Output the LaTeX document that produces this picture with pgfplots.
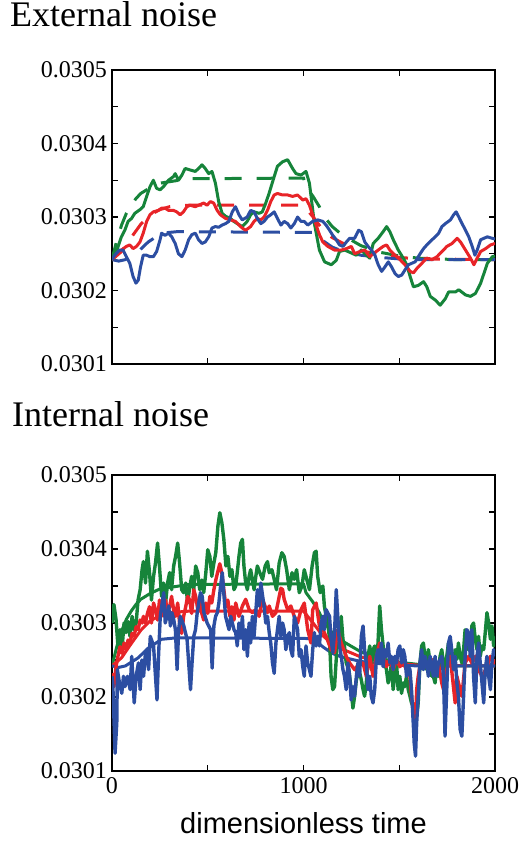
\documentclass[border=0pt]{standalone}
\usepackage{pgfplots}
\pgfplotsset{compat=1.18}
\usepackage{fontspec}
\setmainfont{Liberation Serif}
\newfontfamily\sansf{Liberation Sans}
\definecolor{cg}{RGB}{22,132,58}
\definecolor{cr}{RGB}{232,36,40}
\definecolor{cb}{RGB}{44,78,162}
\pgfplotsset{
  panel/.style={
    scale only axis, width=383pt,
    xmin=0, xmax=2000, ymin=0.0301, ymax=0.0305,
    scaled y ticks=false, scaled x ticks=false,
    xtick={0,1000,2000}, minor xtick={500,1500},
    ytick={0.0301,0.0302,0.0303,0.0304,0.0305},
    minor ytick={0.03015,0.03025,0.03035,0.03045},
    yticklabels={0.0301,0.0302,0.0303,0.0304,0.0305},
    tick align=inside, major tick length=6pt, minor tick length=6pt,
    every tick/.style={black, line width=1.3pt},
    axis line style={line width=2.3pt},
    tick label style={font=\fontsize{24}{26}\selectfont},
    yticklabel style={inner sep=5pt},
    xticklabel style={inner sep=6pt},
    title style={font=\fontsize{36}{38}\selectfont, anchor=base west, inner sep=0pt},
  },
  sol/.style={line width=3pt, line join=round},
  noi/.style={line width=3.4pt, line join=round},
  dsh/.style={line width=3pt, dash pattern=on 17pt off 15pt},
}
\begin{document}
\begin{tikzpicture}
\path[use as bounding box] (0pt,0pt) rectangle (520pt,841pt);
% ---------------- External noise ----------------
\begin{axis}[panel, at={(112pt,477pt)}, anchor=south west, height=294pt,
  xticklabels={},
  title={External noise}, title style={at={(axis description cs:-0.2663,1.1259)}}]
\addplot[cg, dsh] table {
t y
0 0.030242
25 0.030268
50 0.030289
75 0.030305
100 0.030316
125 0.030325
150 0.030332
200 0.030340
250 0.030346
300 0.030348
400 0.030352
1000 0.030353
1013 0.030341
1050 0.030328
1083 0.030314
1100 0.030303
1150 0.030287
1200 0.030276
1300 0.030261
1400 0.030252
1500 0.030247
1600 0.030244
1800 0.030242
2000 0.030242
};
\addplot[cr, dsh] table {
t y
0 0.030242
50 0.030253
100 0.030272
150 0.030290
200 0.030303
250 0.030310
300 0.030314
400 0.030316
1000 0.030316
1050 0.030300
1100 0.030283
1150 0.030272
1200 0.030265
1300 0.030254
1400 0.030249
1500 0.030245
1600 0.030243
2000 0.030242
};
\addplot[cb, dsh] table {
t y
0 0.030242
35 0.030240
70 0.030242
137 0.030253
189 0.030266
259 0.030278
338 0.030280
1050 0.030279
1100 0.030268
1150 0.030259
1200 0.030254
1300 0.030248
1400 0.030245
1500 0.030243
1600 0.030242
2000 0.030242
};
\addplot[cg, sol] table {
t y
0 0.030242
14 0.030246
32 0.030260
49 0.030273
67 0.030282
84 0.030294
102 0.030298
119 0.030305
146 0.030310
163 0.030314
181 0.030328
198 0.030341
216 0.030350
233 0.030339
251 0.030337
268 0.030341
295 0.030350
321 0.030355
330 0.030359
347 0.030350
365 0.030357
382 0.030366
408 0.030364
435 0.030362
452 0.030366
470 0.030371
487 0.030366
505 0.030359
522 0.030362
540 0.030346
557 0.030321
575 0.030305
593 0.030301
619 0.030298
636 0.030294
654 0.030291
680 0.030287
706 0.030294
724 0.030303
742 0.030307
768 0.030305
785 0.030307
803 0.030319
820 0.030332
847 0.030355
864 0.030369
890 0.030375
917 0.030378
943 0.030366
961 0.030359
987 0.030357
1013 0.030362
1031 0.030346
1057 0.030291
1083 0.030255
1110 0.030239
1145 0.030235
1171 0.030241
1188 0.030253
1215 0.030255
1250 0.030251
1276 0.030248
1302 0.030255
1329 0.030248
1346 0.030244
1364 0.030264
1390 0.030271
1416 0.030280
1434 0.030287
1451 0.030280
1469 0.030269
1495 0.030255
1521 0.030244
1539 0.030235
1557 0.030219
1574 0.030205
1600 0.030207
1627 0.030212
1644 0.030205
1662 0.030192
1688 0.030187
1714 0.030180
1741 0.030189
1758 0.030198
1793 0.030198
1811 0.030201
1846 0.030194
1872 0.030192
1898 0.030196
1925 0.030210
1942 0.030223
1960 0.030237
1986 0.030246
2000 0.030247
};
\addplot[cr, sol] table {
t y
0 0.030242
23 0.030248
49 0.030255
75 0.030260
93 0.030262
110 0.030257
128 0.030260
146 0.030266
163 0.030278
181 0.030294
198 0.030303
216 0.030307
242 0.030309
259 0.030312
277 0.030312
295 0.030309
321 0.030309
338 0.030307
356 0.030303
373 0.030307
391 0.030314
408 0.030316
435 0.030314
452 0.030316
479 0.030319
496 0.030316
514 0.030321
531 0.030319
549 0.030309
566 0.030303
593 0.030298
619 0.030296
645 0.030294
663 0.030289
680 0.030285
698 0.030282
724 0.030287
742 0.030294
759 0.030298
777 0.030296
794 0.030300
812 0.030309
829 0.030321
847 0.030330
864 0.030332
890 0.030330
917 0.030330
943 0.030328
969 0.030330
996 0.030323
1013 0.030325
1031 0.030316
1048 0.030303
1066 0.030289
1083 0.030276
1101 0.030266
1127 0.030260
1162 0.030255
1197 0.030255
1224 0.030257
1250 0.030260
1267 0.030250
1294 0.030253
1320 0.030255
1346 0.030246
1364 0.030250
1390 0.030255
1416 0.030260
1434 0.030262
1451 0.030255
1478 0.030248
1504 0.030242
1530 0.030235
1557 0.030226
1574 0.030224
1592 0.030230
1618 0.030237
1644 0.030244
1671 0.030242
1697 0.030246
1723 0.030253
1749 0.030260
1776 0.030264
1802 0.030271
1820 0.030266
1846 0.030255
1872 0.030244
1890 0.030235
1907 0.030244
1925 0.030253
1951 0.030257
1977 0.030262
2000 0.030264
};
\addplot[cb, sol] table {
t y
0 0.030242
14 0.030248
40 0.030255
58 0.030255
75 0.030246
93 0.030237
110 0.030219
125 0.030210
137 0.030214
149 0.030232
163 0.030248
181 0.030248
198 0.030246
216 0.030246
233 0.030253
251 0.030269
259 0.030278
277 0.030275
295 0.030278
312 0.030273
330 0.030264
347 0.030250
365 0.030246
382 0.030255
400 0.030269
417 0.030276
435 0.030278
452 0.030269
470 0.030264
487 0.030266
505 0.030273
522 0.030285
540 0.030287
557 0.030286
575 0.030289
593 0.030291
610 0.030294
628 0.030307
645 0.030314
663 0.030303
680 0.030296
706 0.030300
724 0.030309
742 0.030307
759 0.030298
777 0.030291
794 0.030294
812 0.030300
829 0.030303
847 0.030307
864 0.030298
882 0.030289
899 0.030294
917 0.030291
934 0.030285
952 0.030291
969 0.030300
987 0.030294
1004 0.030294
1022 0.030289
1048 0.030294
1075 0.030296
1101 0.030294
1118 0.030289
1136 0.030282
1153 0.030275
1171 0.030269
1188 0.030262
1206 0.030260
1224 0.030266
1241 0.030271
1267 0.030271
1288 0.030282
1302 0.030280
1320 0.030266
1337 0.030260
1355 0.030255
1373 0.030248
1390 0.030235
1408 0.030226
1425 0.030232
1443 0.030239
1460 0.030232
1478 0.030223
1495 0.030219
1513 0.030221
1530 0.030228
1548 0.030235
1565 0.030237
1583 0.030239
1609 0.030250
1627 0.030257
1644 0.030262
1671 0.030269
1688 0.030273
1706 0.030278
1723 0.030287
1741 0.030291
1767 0.030296
1784 0.030303
1797 0.030307
1811 0.030300
1828 0.030291
1846 0.030282
1863 0.030273
1881 0.030260
1895 0.030248
1907 0.030255
1925 0.030269
1942 0.030271
1960 0.030273
1986 0.030271
2000 0.030270
};
\end{axis}
% ---------------- Internal noise ----------------
\begin{axis}[panel, at={(112pt,70pt)}, anchor=south west, height=296pt,
  xticklabels={0,1000,2000},
  title={Internal noise}, title style={at={(axis description cs:-0.261,1.1419)}},
  xlabel={dimensionless time},
  xlabel style={font=\sansf\fontsize{29}{31}\selectfont, anchor=base, inner sep=0pt,
    at={(axis description cs:0.5,-0.2128)}}]
\addplot[cg, sol] table {
t y
0 0.030242
25 0.030268
50 0.030289
75 0.030305
100 0.030316
125 0.030325
150 0.030332
200 0.030340
250 0.030346
300 0.030348
400 0.030352
1000 0.030353
1013 0.030341
1050 0.030328
1083 0.030314
1100 0.030303
1150 0.030287
1200 0.030276
1300 0.030261
1400 0.030252
1500 0.030247
1600 0.030244
1800 0.030242
2000 0.030242
};
\addplot[cr, sol] table {
t y
0 0.030242
50 0.030253
100 0.030272
150 0.030290
200 0.030303
250 0.030310
300 0.030314
400 0.030316
1000 0.030316
1050 0.030300
1100 0.030283
1150 0.030272
1200 0.030265
1300 0.030254
1400 0.030249
1500 0.030245
1600 0.030243
2000 0.030242
};
\addplot[cb, sol] table {
t y
0 0.030242
35 0.030240
70 0.030242
137 0.030253
189 0.030266
259 0.030278
338 0.030280
1050 0.030279
1100 0.030268
1150 0.030259
1200 0.030254
1300 0.030248
1400 0.030245
1500 0.030243
1600 0.030242
2000 0.030242
};
\addplot[cg, noi] table {
t y
0 0.030300
10 0.030325
21 0.030305
31 0.030269
42 0.030291
52 0.030264
63 0.030300
73 0.030287
84 0.030302
94 0.030282
105 0.030309
115 0.030291
126 0.030300
136 0.030331
147 0.030345
157 0.030372
164 0.030383
175 0.030354
185 0.030397
196 0.030368
206 0.030331
217 0.030363
227 0.030381
238 0.030408
248 0.030376
259 0.030336
269 0.030354
280 0.030327
290 0.030354
301 0.030368
311 0.030345
322 0.030377
332 0.030390
343 0.030408
353 0.030381
364 0.030345
374 0.030341
385 0.030354
395 0.030327
406 0.030349
416 0.030363
427 0.030345
437 0.030377
448 0.030368
458 0.030345
469 0.030358
479 0.030341
490 0.030368
500 0.030399
511 0.030390
521 0.030363
532 0.030381
542 0.030395
553 0.030431
563 0.030449
574 0.030435
584 0.030413
595 0.030377
605 0.030390
616 0.030363
626 0.030372
637 0.030345
646 0.030350
654 0.030368
663 0.030390
672 0.030408
681 0.030413
689 0.030377
698 0.030354
707 0.030345
716 0.030363
724 0.030372
733 0.030359
742 0.030345
751 0.030363
759 0.030377
772 0.030368
786 0.030359
800 0.030377
812 0.030383
821 0.030368
835 0.030372
847 0.030359
859 0.030345
873 0.030381
887 0.030395
899 0.030390
912 0.030372
926 0.030345
940 0.030368
952 0.030359
964 0.030372
978 0.030341
992 0.030350
1004 0.030372
1017 0.030359
1031 0.030345
1045 0.030377
1057 0.030395
1066 0.030397
1074 0.030363
1087 0.030341
1101 0.030350
1109 0.030323
1118 0.030309
1127 0.030300
1136 0.030278
1144 0.030228
1153 0.030210
1162 0.030214
1171 0.030251
1179 0.030291
1188 0.030273
1197 0.030309
1206 0.030278
1214 0.030269
1223 0.030246
1237 0.030237
1249 0.030210
1258 0.030185
1267 0.030201
1276 0.030223
1290 0.030237
1302 0.030223
1311 0.030210
1319 0.030201
1328 0.030219
1337 0.030255
1346 0.030269
1354 0.030237
1363 0.030264
1372 0.030269
1381 0.030246
1389 0.030273
1398 0.030323
1407 0.030291
1416 0.030269
1424 0.030246
1433 0.030237
1442 0.030219
1451 0.030228
1459 0.030246
1468 0.030210
1477 0.030228
1486 0.030246
1494 0.030210
1503 0.030228
1512 0.030205
1521 0.030219
1529 0.030214
1538 0.030228
1547 0.030210
1556 0.030201
1564 0.030192
1573 0.030187
1582 0.030165
1591 0.030174
1599 0.030192
1608 0.030246
1617 0.030269
1626 0.030273
1634 0.030255
1643 0.030237
1652 0.030264
1661 0.030246
1669 0.030228
1678 0.030228
1687 0.030219
1696 0.030241
1704 0.030228
1713 0.030255
1722 0.030264
1731 0.030246
1739 0.030237
1748 0.030255
1757 0.030273
1766 0.030246
1774 0.030255
1783 0.030237
1792 0.030264
1801 0.030251
1809 0.030273
1818 0.030255
1827 0.030246
1836 0.030264
1844 0.030291
1853 0.030264
1862 0.030282
1871 0.030264
1879 0.030296
1888 0.030300
1897 0.030278
1906 0.030264
1914 0.030282
1923 0.030255
1932 0.030269
1941 0.030264
1949 0.030287
1958 0.030314
1967 0.030300
1976 0.030278
1984 0.030296
1993 0.030269
2000 0.030282
};
\addplot[cr, noi] table {
t y
0 0.030232
10 0.030214
21 0.030241
31 0.030255
42 0.030268
52 0.030259
63 0.030273
73 0.030264
84 0.030277
94 0.030273
105 0.030286
115 0.030282
126 0.030295
136 0.030291
147 0.030304
157 0.030300
164 0.030309
175 0.030300
185 0.030313
196 0.030322
206 0.030300
217 0.030327
227 0.030318
238 0.030304
248 0.030331
259 0.030309
269 0.030318
280 0.030331
290 0.030313
301 0.030322
311 0.030336
322 0.030318
332 0.030309
343 0.030327
353 0.030300
364 0.030286
374 0.030309
385 0.030322
395 0.030336
406 0.030331
416 0.030313
427 0.030345
437 0.030336
448 0.030318
458 0.030331
469 0.030313
479 0.030304
490 0.030327
500 0.030313
511 0.030336
521 0.030327
532 0.030345
542 0.030358
553 0.030370
563 0.030380
574 0.030367
584 0.030345
595 0.030322
605 0.030331
616 0.030309
626 0.030322
637 0.030304
646 0.030327
663 0.030309
681 0.030323
698 0.030332
716 0.030318
733 0.030314
751 0.030318
768 0.030309
786 0.030332
812 0.030314
821 0.030323
838 0.030309
856 0.030314
882 0.030347
891 0.030345
899 0.030332
917 0.030318
934 0.030323
952 0.030309
969 0.030300
987 0.030318
1004 0.030327
1022 0.030291
1039 0.030273
1048 0.030318
1066 0.030327
1083 0.030296
1101 0.030291
1118 0.030282
1144 0.030264
1162 0.030260
1179 0.030291
1197 0.030273
1223 0.030255
1241 0.030246
1267 0.030237
1293 0.030246
1311 0.030246
1328 0.030228
1346 0.030255
1363 0.030228
1381 0.030255
1398 0.030273
1416 0.030255
1433 0.030241
1451 0.030251
1468 0.030237
1486 0.030251
1503 0.030241
1521 0.030246
1538 0.030237
1556 0.030228
1564 0.030201
1573 0.030183
1578 0.030165
1585 0.030169
1591 0.030210
1599 0.030228
1617 0.030255
1634 0.030246
1652 0.030237
1669 0.030251
1687 0.030237
1704 0.030246
1722 0.030219
1731 0.030210
1748 0.030237
1766 0.030255
1792 0.030192
1801 0.030228
1818 0.030210
1827 0.030201
1844 0.030246
1862 0.030255
1879 0.030246
1897 0.030255
1914 0.030237
1932 0.030228
1941 0.030232
1958 0.030241
1976 0.030255
1993 0.030246
2000 0.030251
};
\addplot[cb, noi] table {
t y
0 0.030228
4 0.030219
11 0.030165
16 0.030124
25 0.030165
28 0.030237
39 0.030219
51 0.030205
60 0.030228
68 0.030214
81 0.030228
95 0.030210
103 0.030255
116 0.030192
126 0.030228
138 0.030246
147 0.030210
156 0.030250
165 0.030228
173 0.030255
182 0.030264
191 0.030237
200 0.030282
217 0.030269
235 0.030196
243 0.030255
252 0.030309
270 0.030341
278 0.030300
287 0.030309
296 0.030323
305 0.030296
313 0.030314
322 0.030305
331 0.030291
340 0.030237
348 0.030291
357 0.030309
375 0.030296
392 0.030278
410 0.030210
418 0.030246
427 0.030282
436 0.030291
445 0.030314
453 0.030327
462 0.030341
471 0.030336
480 0.030314
497 0.030300
515 0.030291
523 0.030239
532 0.030296
541 0.030309
550 0.030314
558 0.030327
567 0.030350
576 0.030368
585 0.030336
593 0.030309
602 0.030300
611 0.030291
620 0.030309
637 0.030291
646 0.030287
654 0.030269
663 0.030300
672 0.030282
681 0.030309
689 0.030264
698 0.030291
707 0.030255
716 0.030300
724 0.030273
733 0.030309
742 0.030282
759 0.030345
768 0.030323
777 0.030354
794 0.030323
803 0.030300
812 0.030309
821 0.030287
829 0.030273
838 0.030246
847 0.030232
856 0.030273
864 0.030291
873 0.030309
882 0.030282
891 0.030300
899 0.030291
908 0.030264
917 0.030282
926 0.030287
934 0.030264
943 0.030255
952 0.030309
961 0.030300
969 0.030291
978 0.030255
987 0.030264
996 0.030241
1004 0.030228
1013 0.030269
1022 0.030246
1031 0.030237
1039 0.030228
1048 0.030264
1057 0.030287
1066 0.030269
1074 0.030282
1083 0.030269
1092 0.030300
1101 0.030309
1109 0.030291
1118 0.030318
1136 0.030309
1144 0.030278
1153 0.030260
1162 0.030287
1171 0.030345
1179 0.030309
1188 0.030269
1197 0.030255
1206 0.030237
1214 0.030228
1223 0.030210
1232 0.030246
1241 0.030228
1249 0.030196
1258 0.030214
1267 0.030201
1276 0.030228
1284 0.030246
1293 0.030228
1302 0.030282
1311 0.030296
1319 0.030264
1328 0.030246
1337 0.030210
1346 0.030228
1354 0.030201
1363 0.030192
1372 0.030210
1381 0.030255
1389 0.030264
1398 0.030246
1407 0.030273
1416 0.030241
1424 0.030264
1433 0.030255
1442 0.030273
1451 0.030246
1459 0.030255
1468 0.030237
1477 0.030255
1486 0.030246
1494 0.030264
1503 0.030269
1512 0.030246
1521 0.030264
1529 0.030255
1538 0.030228
1547 0.030241
1556 0.030237
1564 0.030210
1573 0.030165
1578 0.030138
1585 0.030120
1591 0.030165
1599 0.030201
1608 0.030246
1617 0.030264
1626 0.030237
1634 0.030255
1643 0.030246
1652 0.030228
1661 0.030255
1669 0.030246
1678 0.030228
1687 0.030255
1696 0.030228
1704 0.030246
1722 0.030255
1731 0.030228
1739 0.030147
1748 0.030210
1757 0.030273
1766 0.030282
1774 0.030264
1783 0.030237
1792 0.030255
1801 0.030219
1809 0.030201
1818 0.030156
1827 0.030147
1836 0.030201
1844 0.030255
1853 0.030291
1862 0.030287
1871 0.030255
1879 0.030291
1888 0.030228
1897 0.030192
1906 0.030255
1914 0.030273
1923 0.030246
1932 0.030219
1941 0.030192
1949 0.030237
1958 0.030255
1967 0.030228
1976 0.030210
1984 0.030246
1993 0.030264
2000 0.030255
};
\end{axis}
\end{tikzpicture}
\end{document}
